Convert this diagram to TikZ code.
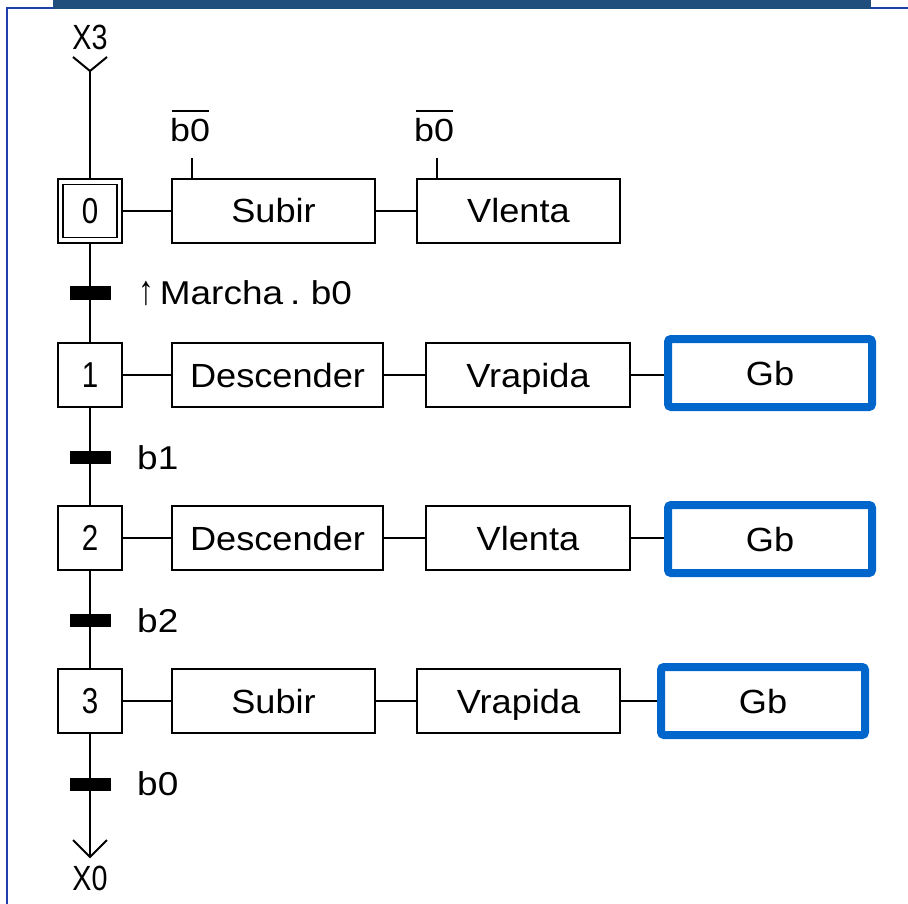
\documentclass[tikz,border=0pt]{standalone}
\usepackage{fontspec}
\usepackage{graphicx}
\setmainfont{Liberation Sans}
\newfontfamily\boxfont[FakeStretch=1.08]{Liberation Sans}
\newfontfamily\lblfont[FakeStretch=1.12]{Liberation Sans}
\newfontfamily\numfont[FakeStretch=0.82]{Liberation Sans}
\definecolor{barblue}{RGB}{31,78,125}
\definecolor{frameblue}{RGB}{30,64,170}
\definecolor{gbblue}{RGB}{0,102,204}
\newcommand{\risingedge}{\scalebox{0.85}[1.25]{↑}}
\newcommand{\tightspaces}{\spaceskip=7pt\relax}
\begin{document}
\begin{tikzpicture}[x=1pt,y=-1pt,
  wire/.style={line width=2pt},
  stepbox/.style={draw, line width=2pt, minimum width=64pt, minimum height=64pt,
    inner sep=0pt, font=\numfont\fontsize{36pt}{40pt}\selectfont,
    text height=25.8pt, text depth=0pt},
  actbox/.style={draw, line width=2pt, minimum height=64pt, inner sep=0pt,
    font=\boxfont\fontsize{33.5pt}{40pt}\selectfont, text height=24pt, text depth=0pt},
  gbbox/.style={draw=gbblue, line width=8pt, rounded corners=3pt, minimum height=68pt,
    minimum width=204pt, inner sep=0pt,
    font=\boxfont\fontsize{33.5pt}{40pt}\selectfont, text height=24pt, text depth=0pt},
  transbar/.style={fill=black, minimum width=41pt, minimum height=13pt, inner sep=0pt},
  cond/.style={anchor=base west, inner sep=0pt,
    font=\lblfont\fontsize{33pt}{38pt}\selectfont\tightspaces},
  negcond/.style={anchor=base west, inner sep=0pt, text height=31pt,
    font=\lblfont\fontsize{32pt}{38pt}\selectfont},
  xref/.style={anchor=base, inner sep=0pt, font=\numfont\fontsize{35pt}{40pt}\selectfont}]

\useasboundingbox (0,0) rectangle (908,904);

% frame
\draw[frameblue, line width=1.5pt] (7,904) -- (7,8) -- (908,8);
\fill[barblue] (53,0) rectangle (871,9);

% steps
\node[stepbox] (s0) at (90,211) {0};
\node[draw, line width=1.2pt, minimum width=54pt, minimum height=53pt, inner sep=0pt] (s0in) at (90,211) {};
\node[stepbox] (s1) at (90,375) {1};
\node[stepbox] (s2) at (90,538) {2};
\node[stepbox] (s3) at (90,701) {3};

% actions
\node[actbox, minimum width=203pt] (a0a) at (273.5,211) {Subir};
\node[actbox, minimum width=203pt] (a0b) at (518.5,211) {Vlenta};

\node[actbox, minimum width=211pt] (a1a) at (277.5,375) {Descender};
\node[actbox, minimum width=204pt] (a1b) at (528,375) {Vrapida};
\node[gbbox] (a1c) at (770,373) {Gb};

\node[actbox, minimum width=211pt] (a2a) at (277.5,538) {Descender};
\node[actbox, minimum width=204pt] (a2b) at (528,538) {Vlenta};
\node[gbbox] (a2c) at (770,539) {Gb};

\node[actbox, minimum width=203pt] (a3a) at (273.5,701) {Subir};
\node[actbox, minimum width=203pt] (a3b) at (518.5,701) {Vrapida};
\node[gbbox] (a3c) at (763,701) {Gb};

% action links
\draw[wire] (s0.east) -- (a0a.west) (a0a.east) -- (a0b.west);
\draw[wire] (s1.east) -- (a1a.west) (a1a.east) -- (a1b.west) (a1b.east) -- (a1b.east -| a1c.west);
\draw[wire] (s2.east) -- (a2a.west) (a2a.east) -- (a2b.west) (a2b.east) -- (a2b.east -| a2c.west);
\draw[wire] (s3.east) -- (a3a.west) (a3a.east) -- (a3b.west) (a3b.east) -- (a3b.east -| a3c.west);

% negated conditions on the step 0 actions
\node[negcond] (n0a) at (170,142) {b0};
\node[negcond] (n0b) at (414,142) {b0};
\draw[wire] (n0a.north west) ++(2,0) -- ([xshift=-1pt]n0a.north east);
\draw[wire] (n0b.north west) ++(2,0) -- ([xshift=-1pt]n0b.north east);
\coordinate (k0a) at (192,158);
\coordinate (k0b) at (437,158);
\draw[wire] (k0a) -- (k0a |- a0a.north);
\draw[wire] (k0b) -- (k0b |- a0b.north);

% entry and exit references
\node[xref] (x3) at (90,50) {X3};
\node[xref] (x0) at (90,890) {X0};
\coordinate (in) at (90,71);
\coordinate (out) at (90,857);
\draw[wire] (in) ++(-17,-14) -- (in) -- ++(17,-14);
\draw[wire] (out) ++(-17,-17) -- (out) -- ++(17,-17);

% sequence line
\draw[wire] (in) -- (s0.north);
\draw[wire] (s0.south) -- (s1.north);
\draw[wire] (s1.south) -- (s2.north);
\draw[wire] (s2.south) -- (s3.north);
\draw[wire] (s3.south) -- (out);

% transitions
\node[transbar] (t1) at (90,293) {};
\node[transbar] (t2) at (90,457) {};
\node[transbar] (t3) at (90,620) {};
\node[transbar] (t4) at (90,784) {};
\node[cond] (c1) at (138,305) {\risingedge\hspace{6pt}Marcha . b0};
\node[cond] (c2) at (137,469) {b1};
\node[cond] (c3) at (137,632) {b2};
\node[cond] (c4) at (137,795) {b0};
\end{tikzpicture}
\end{document}
